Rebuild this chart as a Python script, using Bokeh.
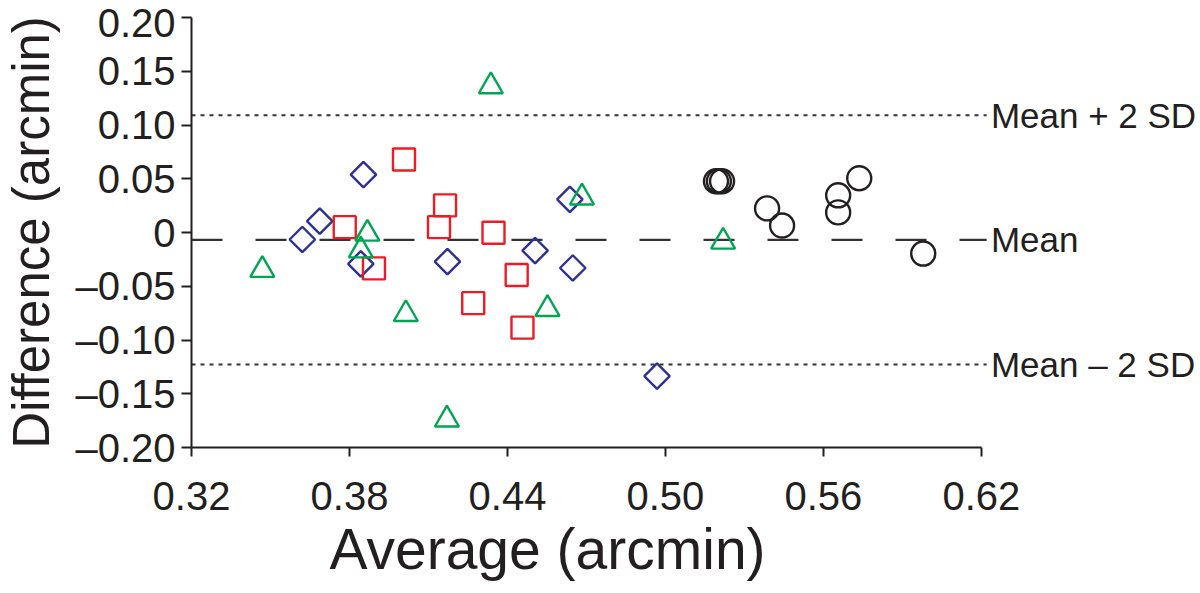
import math
from bokeh.plotting import figure
from bokeh.models import Range1d, FixedTicker, Title
from bokeh.core.properties import value
from bokeh.embed import file_html
from bokeh.resources import INLINE

# ---- data ----
circle_x = [0.5192, 0.5203, 0.5215, 0.5386, 0.5443, 0.5656, 0.5656, 0.5736, 0.5979]
circle_y = [0.0477, 0.0477, 0.0477, 0.0224, 0.0065, 0.0346, 0.0187, 0.0505, -0.0196]

diamond_x = [0.3621, 0.3687, 0.3853, 0.3843, 0.4172, 0.4505, 0.4637, 0.4648, 0.4968]
diamond_y = [-0.0065, 0.0106, 0.0539, -0.0292, -0.0271, -0.0168, 0.0308, -0.0330, -0.1336]

square_x = [0.3782, 0.4007, 0.3893, 0.4163, 0.4140, 0.4347, 0.4270, 0.4435, 0.4457]
square_y = [0.0050, 0.0679, -0.0334, 0.0252, 0.0050, -0.0003, -0.0657, -0.0395, -0.0885]

triangle_x = [0.3469, 0.3868, 0.3843, 0.4014, 0.4337, 0.4552, 0.4170, 0.4683, 0.5219]
triangle_y = [-0.0348, -0.0011, -0.0167, -0.0759, 0.1360, -0.0712, -0.1740, 0.0325, -0.0086]

mean_diff = -0.0068
upper_limit = 0.109
lower_limit = -0.1227
line_extent = [0.32, 0.622]

ref_labels = ["Mean + 2 SD", "Mean", "Mean \u2013 2 SD"]

x_ticks = [0.32, 0.38, 0.44, 0.50, 0.56, 0.62]
x_tick_labels = ["0.32", "0.38", "0.44", "0.50", "0.56", "0.62"]
y_ticks = [-0.20, -0.15, -0.10, -0.05, 0.0, 0.05, 0.10, 0.15, 0.20]
y_tick_labels = ["\u20130.20", "\u20130.15", "\u20130.10", "\u20130.05", "0",
                 "0.05", "0.10", "0.15", "0.20"]

x_title = "Average (arcmin)"
y_title = "Difference (arcmin)"

FONT = "Liberation Sans"
INK = "#231f20"

W, H = 1196, 590
LEFT, TOP, BOTTOM = 191, 17, 447

p = figure(width=W, height=H, output_backend="svg", toolbar_location=None,
           x_range=Range1d(0.32, 0.32 + (W - LEFT) / 2633.0), y_range=Range1d(-0.2, 0.2),
           min_border_left=LEFT, min_border_right=0, min_border_top=TOP,
           min_border_bottom=H - BOTTOM)
p.outline_line_color = None
p.xgrid.visible = False
p.ygrid.visible = False
p.background_fill_color = "white"
p.border_fill_color = "white"

# axes
for ax in (p.xaxis[0], p.yaxis[0]):
    ax.axis_line_color = INK
    ax.axis_line_width = 2
    ax.major_tick_line_color = INK
    ax.major_tick_line_width = 2
    ax.major_tick_in = 0
    ax.minor_tick_line_color = None
    ax.major_label_text_font = FONT
    ax.major_label_text_font_size = "40px"
    ax.major_label_text_color = INK

xa = p.xaxis[0]
xa.bounds = (0.32, 0.62)
xa.ticker = FixedTicker(ticks=x_ticks)
xa.major_label_overrides = {t: l for t, l in zip(x_ticks, x_tick_labels)}
xa.major_tick_out = 9
xa.major_label_standoff = 25

ya = p.yaxis[0]
ya.ticker = FixedTicker(ticks=y_ticks)
ya.major_label_overrides = {t: l for t, l in zip(y_ticks, y_tick_labels)}
ya.major_tick_out = 10
ya.major_label_standoff = 6
ya.axis_label = y_title
ya.axis_label_text_font = FONT
ya.axis_label_text_font_size = "51px"
ya.axis_label_text_font_style = "normal"
ya.axis_label_text_color = INK
ya.axis_label_standoff = 12

# x title as a below-title, left-aligned with an offset so it sits like the reference
p.add_layout(Title(text=x_title, align="left", offset=138, standoff=4,
                   text_font=FONT, text_font_size="57px", text_font_style="normal",
                   text_color=INK), "below")

# reference lines
p.line(line_extent, [upper_limit, upper_limit], line_color="#333333", line_width=2,
       line_dash="4 5")
p.line(line_extent, [lower_limit, lower_limit], line_color="#333333", line_width=2,
       line_dash="4 5")
p.line(line_extent, [mean_diff, mean_diff], line_color="#333333", line_width=2.2,
       line_dash="31 33")

p.text(x=[0.6236] * 3, y=[upper_limit, mean_diff, lower_limit], text=ref_labels,
       text_font=value(FONT), text_font_size="35px", text_baseline="middle",
       text_align="left", text_color=INK)

# markers
p.scatter(circle_x, circle_y, marker="circle", size=24, fill_color=None,
          line_color=INK, line_width=2.4)
p.scatter(diamond_x, diamond_y, marker="square", size=18, angle=math.pi / 4,
          fill_color=None, line_color="#2e3192", line_width=2.4)
p.scatter(square_x, square_y, marker="square", size=22, fill_color=None,
          line_color="#ed1c24", line_width=2.4)
p.scatter(triangle_x, triangle_y, marker="triangle", size=24, fill_color=None,
          line_color="#00a651", line_width=2.4)

open("out.html", "w").write(file_html(p, INLINE))
